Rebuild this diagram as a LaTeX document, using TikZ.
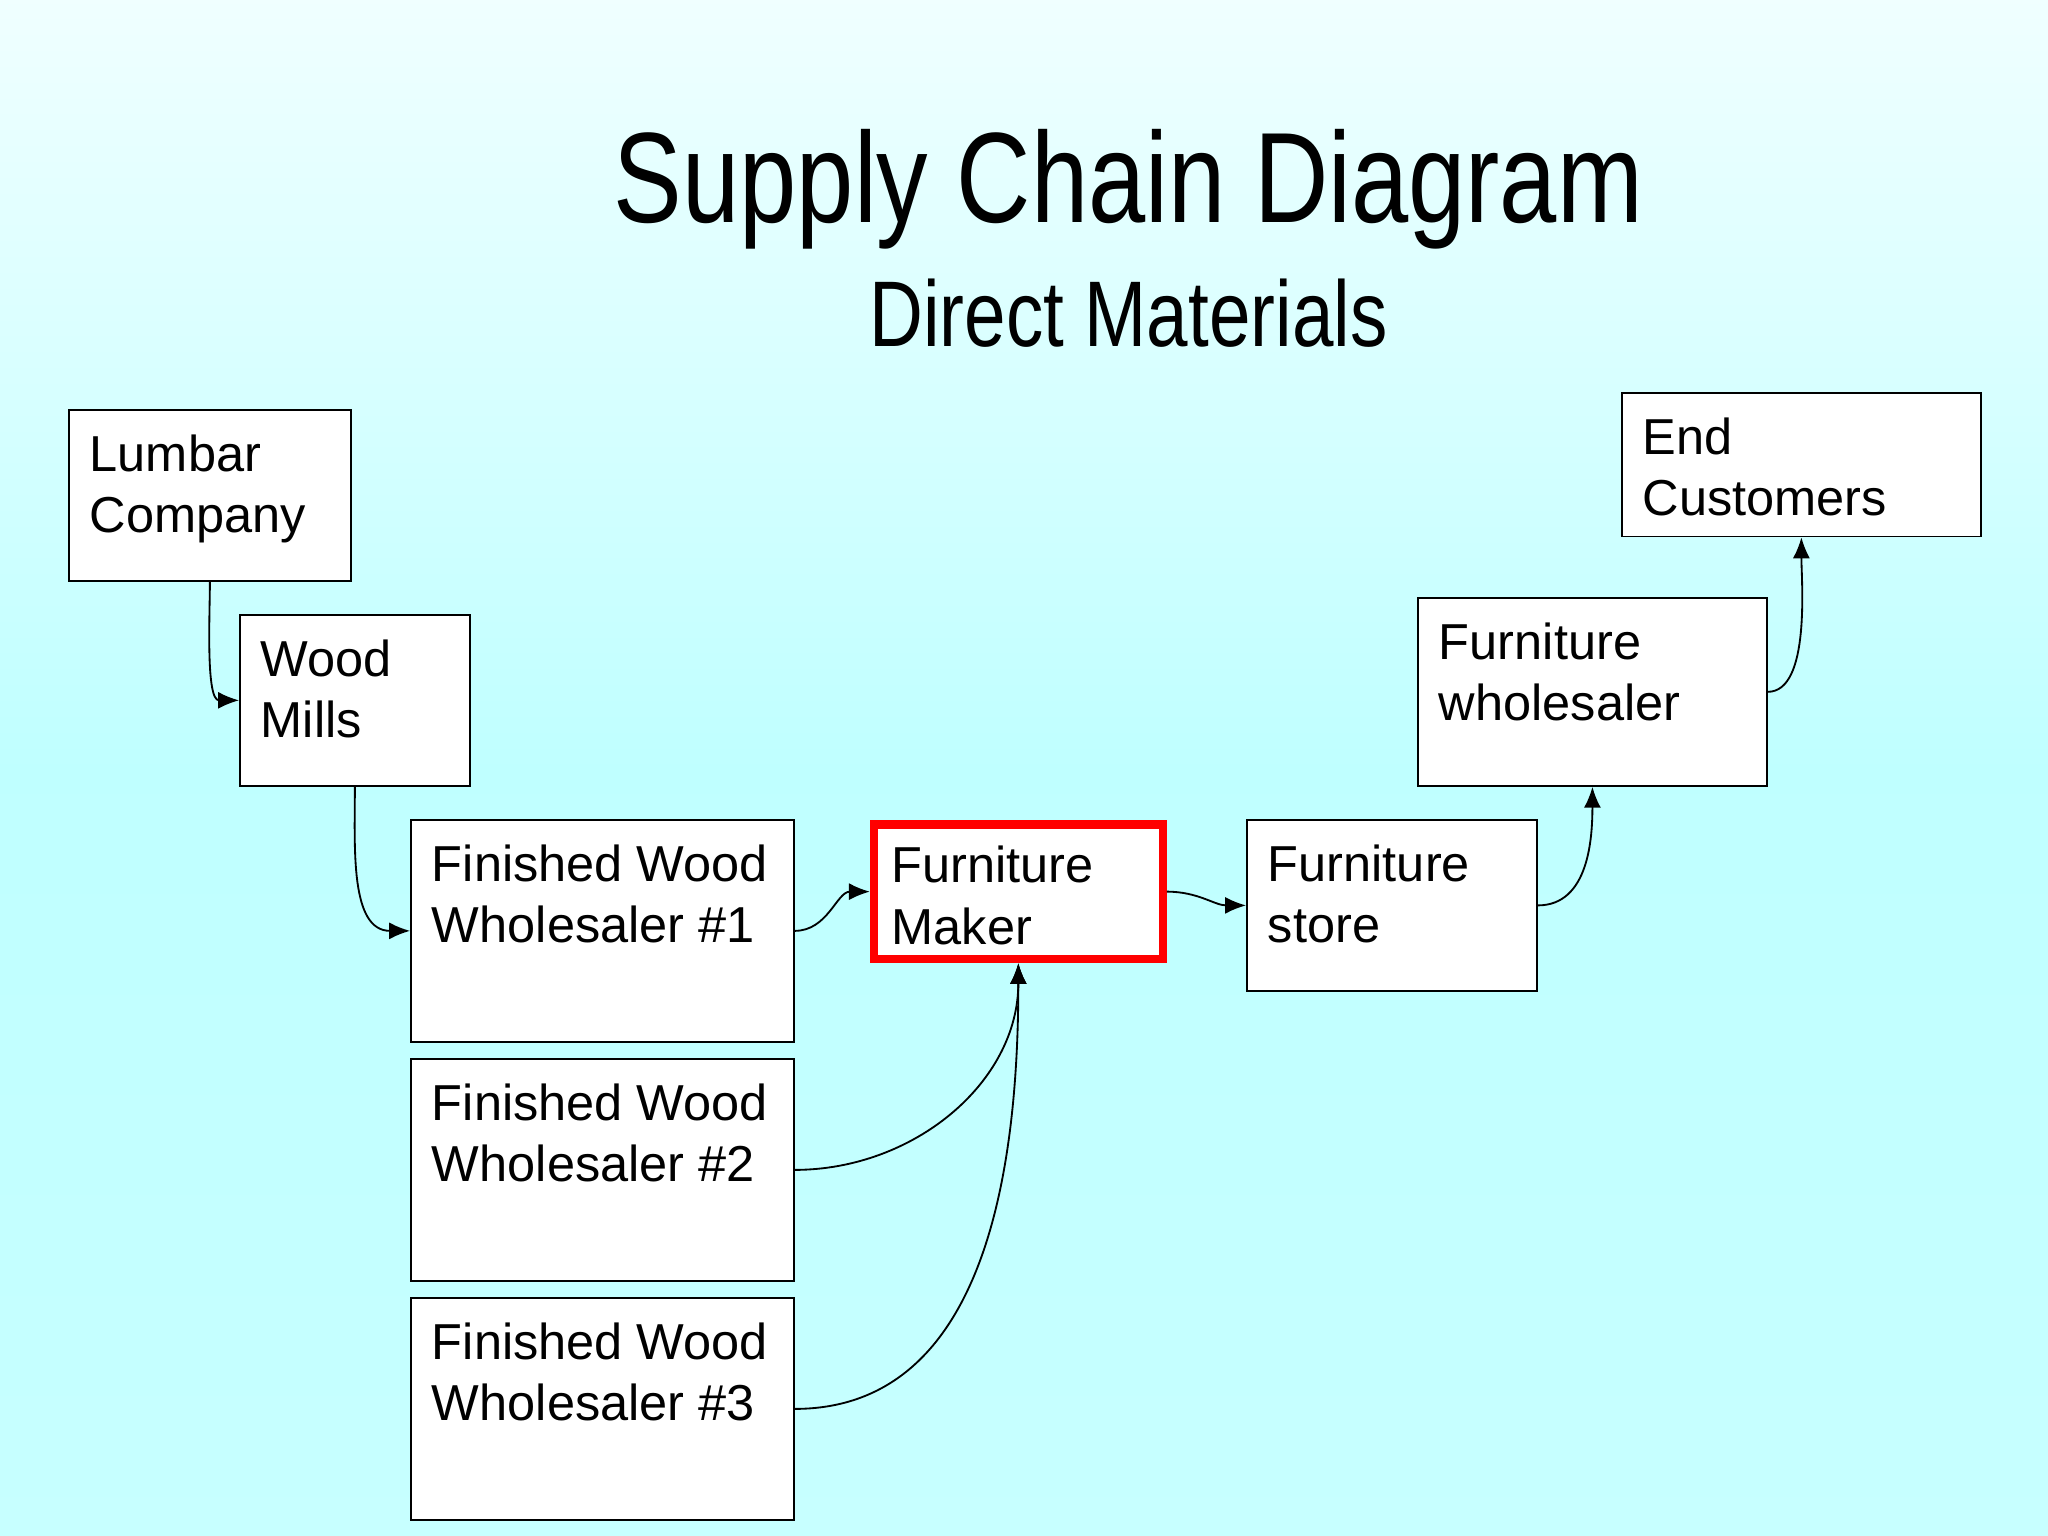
\documentclass[tikz,border=0pt]{standalone}
\usepackage{fontspec}
\setmainfont{Liberation Sans}
\newfontfamily\narrowfont{Liberation Sans}[FakeStretch=0.8]
\usetikzlibrary{arrows.meta}
\tikzset{basic/.style={draw,fill=white,anchor=north west,align=left,inner sep=0pt}}
\tikzset{maker/.style={basic,draw=red,line width=1.8pt}}
\tikzset{label/.style={anchor=north west,align=left,inner sep=0pt,font=\fontsize{11}{13.4}\selectfont}}

\begin{document}
\begin{tikzpicture}[x=0.01cm, y=-0.01cm, >={Latex[length=1.6mm,width=1.3mm]}]
	
	\shade[top color=cyan!6, bottom color=cyan!22, middle color=cyan!25] (0,0) rectangle (1568,1176);
	\useasboundingbox (0,0) rectangle (1568,1176);
	
	% title
	\node [font=\narrowfont\fontsize{28}{33}\selectfont] (title) at (864,145) {Supply Chain Diagram};
	\node [font=\narrowfont\fontsize{20.3}{24}\selectfont] (sub) at (864,240) {Direct Materials};
	
	% boxes
	\foreach \n/\x/\y/\w/\h in {lumbar/52/313/216/131, mills/183/470/176/131,
	    fw1/314/627/293/170, fw2/314/810/293/170, fw3/314/993/293/170,
	    store/954/627/222/131, whole/1085/457/267/144, endc/1241/300/275/110}
	  \node [basic, minimum width=\w*0.01cm, minimum height=\h*0.01cm] (\n) at (\x,\y) {};
	\node [maker, minimum width=221*0.01cm, minimum height=103*0.01cm] (maker) at (666,628) {};
	
	% labels
	\foreach \n/\t in {lumbar/{Lumbar\\Company}, mills/{Wood\\Mills},
	    fw1/{Finished Wood\\Wholesaler \#1}, fw2/{Finished Wood\\Wholesaler \#2},
	    fw3/{Finished Wood\\Wholesaler \#3}, maker/{Furniture\\Maker},
	    store/{Furniture\\store}, whole/{Furniture\\wholesaler}, endc/{End\\Customers}}
	  \node [label] at ([xshift=16*0.01cm, yshift=-19*0.01cm] \n.north west) {\t};
	
	% connectors
	\draw [->] (lumbar.south) to[out=-90,in=180,looseness=0.7] (mills.west);
	\draw [->] (mills.south) to[out=-90,in=180] (fw1.west);
	\draw [->] (fw1.east) to[out=0,in=180] (maker.west);
	\draw [->] (fw2.east) to[out=0,in=-90] (maker.south);
	\draw [->] (fw3.east) to[out=0,in=-90] (maker.south);
	\draw [->] (maker.east) to[out=0,in=180] (store.west);
	\draw [->] (store.east) to[out=0,in=-90] (whole.south);
	\draw [->] (whole.east) to[out=0,in=-90,looseness=0.7] (endc.south);
	
\end{tikzpicture}
\end{document}
